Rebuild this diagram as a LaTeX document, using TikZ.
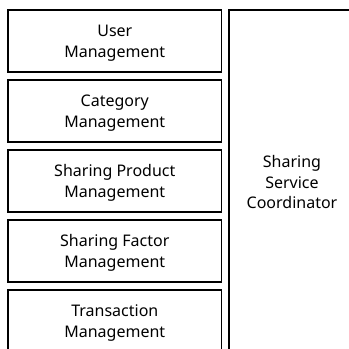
\documentclass[tikz,border=0pt]{standalone}
\usepackage{fontspec}
\setmainfont{Noto Sans}
\usetikzlibrary{positioning}

\tikzset{
  module/.style={draw,line width=1.6bp,minimum width=213bp,minimum height=62bp,
    align=center,inner sep=0pt,outer sep=0pt,text depth=-4bp,
    font=\fontsize{16bp}{20.7bp}\selectfont},
  coordbox/.style={module,text depth=-2bp,minimum width=126bp,minimum height=344bp}
}

\begin{document}
\begin{tikzpicture}[x=1bp,y=-1bp]
\useasboundingbox (0,0) rectangle (349,349);
\clip (0,0) rectangle (349,349);
\node[module] (user) at (114.8,41) {User\\Management};
\node[module,below=8bp of user] (category) {Category\\Management};
\node[module,below=8bp of category] (product) {Sharing Product\\Management};
\node[module,below=8bp of product] (factor) {Sharing Factor\\Management};
\node[module,below=8bp of factor] (transaction) {Transaction\\Management};
\node[coordbox,anchor=north west] (coordinator) at (229,10) {Sharing\\Service\\Coordinator};
\end{tikzpicture}
\end{document}
